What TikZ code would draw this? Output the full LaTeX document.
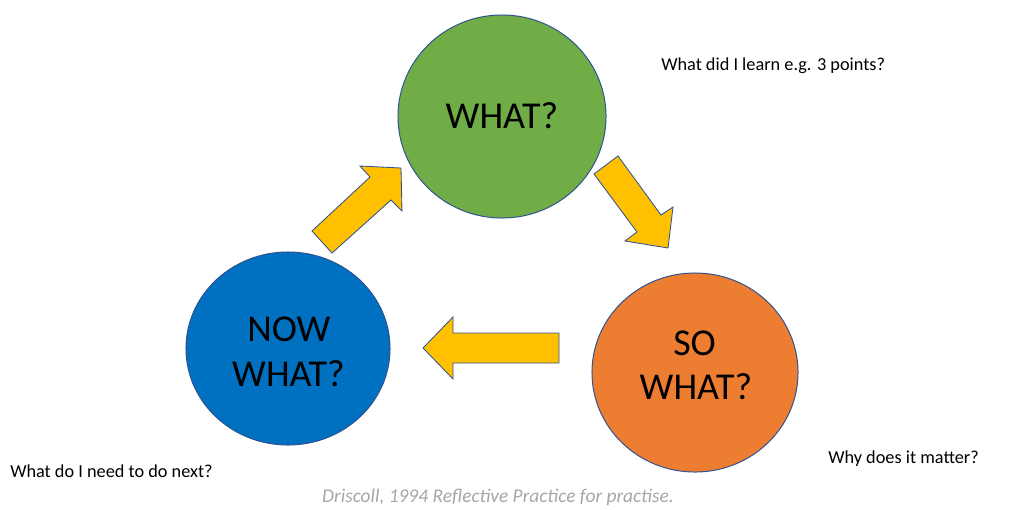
\documentclass[tikz,border=0pt]{standalone}
\usepackage{fontspec}
\setmainfont{Carlito}
\usetikzlibrary{shapes.geometric}
\definecolor{cgreen}{HTML}{70AD47}
\definecolor{cblue}{HTML}{0070C0}
\definecolor{corange}{HTML}{ED7D31}
\definecolor{cyellow}{HTML}{FFC000}
\definecolor{cedge}{HTML}{2F528F}
\definecolor{cgray}{HTML}{A6A6A6}
\tikzset{
  bubble/.style={ellipse, draw=cedge, line width=0.7pt, inner sep=0pt, outer sep=0pt},
  blockarrow/.style={fill=cyellow, draw=cedge, line width=0.6pt, line join=miter},
  bigtext/.style={font=\fontsize{27}{32}\selectfont, inner sep=0pt, text=black},
  smalltext/.style={font=\fontsize{13}{15}\selectfont, inner sep=0pt, anchor=base west, text=black},
}
\begin{document}
\begin{tikzpicture}[x=0.025cm,y=-0.025cm]
\useasboundingbox (0,0) rectangle (1016,509);
% circles
\node[bubble, fill=cgreen, minimum width=5.2cm, minimum height=5.075cm] (what) at (502,116.5) {};
\node[bubble, fill=cblue, minimum width=5.1cm, minimum height=4.825cm] (now) at (288,348.5) {};
\node[bubble, fill=corange, minimum width=5.15cm, minimum height=4.975cm] (so) at (695,372.5) {};
% circle texts
\node[bigtext, anchor=base] (whatT) at (502,128) {WHAT?};
\node[bigtext, anchor=base west] (nowA) at (247,341) {NOW};
\node[bigtext, anchor=base] (nowB) at (288.5,386) {WHAT?};
\node[bigtext, anchor=base west] (soA) at (673,355) {SO};
\node[bigtext, anchor=base] (soB) at (696,399) {WHAT?};
% block arrows
\draw[blockarrow] (401,168) -- (360,166) -- (370,177) -- (312,231) -- (332,253) -- (391,200) -- (402,211) -- cycle;
\draw[blockarrow] (618,156) -- (594,174) -- (637,232) -- (625,241) -- (668,248) -- (673,207) -- (661,215) -- cycle;
\draw[blockarrow] (423,348) -- (453,317) -- (453,333) -- (559,333) -- (559,363) -- (453,363) -- (453,379) -- cycle;
% side texts
\node[smalltext] (q1) at (661,70) {What did I learn e.g. 3 points?};
\node[smalltext] (q2) at (10,477) {What do I need to do next?};
\node[smalltext] (q3) at (828,463) {Why does it matter?};
\node[font=\fontsize{13.8}{16}\selectfont\itshape, text=cgray, inner sep=0pt, anchor=base] (ref) at (498,502) {Driscoll, 1994 Reflective Practice for practise.};
\end{tikzpicture}
\end{document}
